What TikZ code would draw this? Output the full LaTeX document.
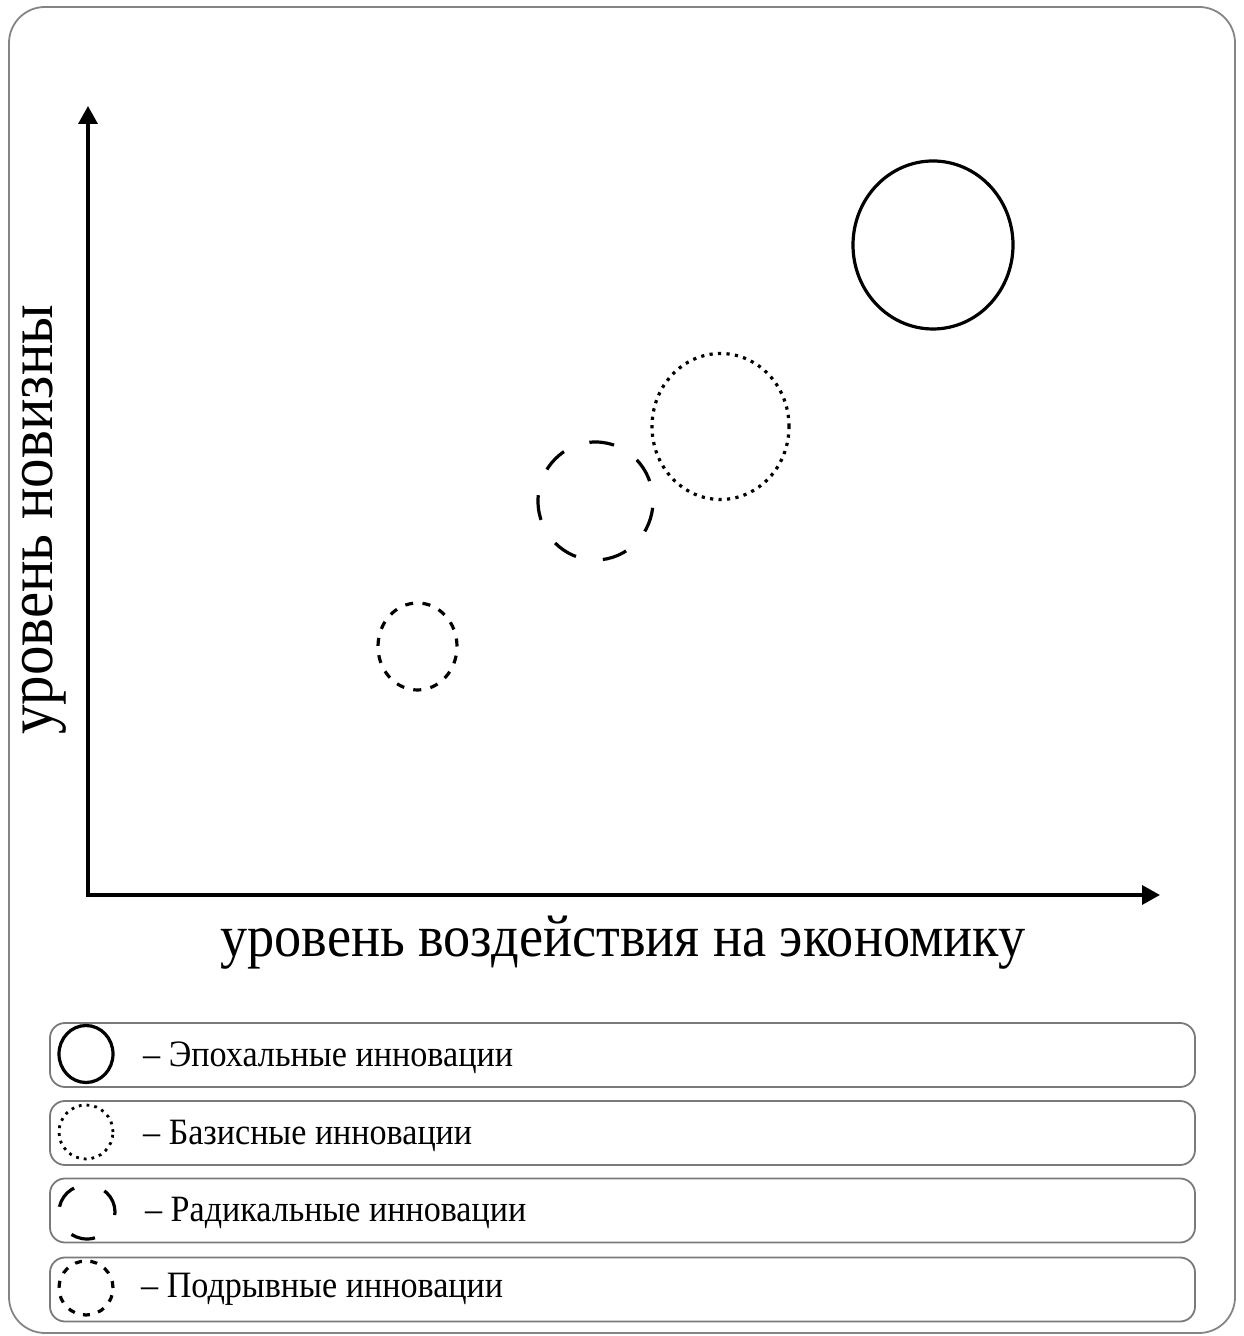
\documentclass[tikz,border=0pt]{standalone}
\usepackage{fontspec}
\setmainfont{Liberation Serif}
\usetikzlibrary{arrows.meta,shapes.geometric}
\definecolor{framegray}{HTML}{858585}
\definecolor{boxgray}{HTML}{7A7A7A}
% text set to a given width, slightly taller than the plain face
\newcommand{\fitto}[2]{\resizebox{#1}{!}{\scalebox{1}[1.09]{#2}}}
\tikzset{
  frame/.style={draw=framegray, line width=1.8pt, rounded corners=36pt},
  legbox/.style={draw=boxgray, line width=1.8pt, rounded corners=15pt,
    minimum width=1145pt, minimum height=64pt, inner sep=0pt},
  axis/.style={line width=3.5pt, line join=miter,
    {Triangle[length=18pt,width=19pt]}-{Triangle[length=18pt,width=19pt]}},
  bubble/.style={draw, ellipse, line width=3.2pt, inner sep=0pt, outer sep=0pt},
  epochal/.style={bubble},
  basic/.style={bubble, dash pattern=on 3.2pt off 5.3pt},
  radical/.style={bubble, dash pattern=on 25pt off 27.3pt, dash phase=32pt},
  disruptive/.style={bubble, dash pattern=on 8pt off 9.4pt},
  txt/.style={inner sep=0pt, anchor=base west},
}
\begin{document}
\begin{tikzpicture}[x=1pt, y=1pt]
  \useasboundingbox (0,0) rectangle (1244,1336);
  % outer frame
  \draw[frame] (9,3) rectangle (1235,1329);

  % axes
  \coordinate (origin) at (88,441);
  \coordinate (ytip) at (88,1230);
  \coordinate (xtip) at (1160,441);
  \draw[axis] (ytip) -- (origin) -- (xtip);

  \node[txt] (xlabel) at (220,379) {\fitto{805pt}{уровень воздействия на экономику}};
  \node[txt, rotate=90] (ylabel) at (52,601) {\fitto{430pt}{уровень новизны}};

  % innovation bubbles
  \node[epochal, minimum width=160pt, minimum height=168pt] (epo) at (933,1091) {};
  \node[basic, minimum width=137pt, minimum height=146pt] (bas) at (720.5,909.5) {};
  \node[radical, minimum width=115pt, minimum height=118pt] (rad) at (595.5,835) {};
  \node[disruptive, minimum width=79pt, minimum height=87pt] (dis) at (417.5,689.5) {};

  % legend
  \node[legbox] (box1) at (622.5,281) {};
  \node[legbox] (box2) at (622.5,203) {};
  \node[legbox] (box3) at (622.5,125.5) {};
  \node[legbox] (box4) at (622.5,46.5) {};

  \node[epochal, minimum width=54pt, minimum height=57pt] (ic1) at (86,282) {};
  \node[basic, line width=2.8pt, dash pattern=on 2.8pt off 5pt, minimum width=54pt, minimum height=54pt] (ic2) at (86,204) {};
  \node[bubble, dash pattern=on 24.5pt off 32pt, minimum width=56pt, minimum height=54pt] (ic3) at (87,124) {};
  \node[disruptive, dash pattern=on 7pt off 8.5pt, minimum width=54pt, minimum height=54pt] (ic4) at (86,48) {};

  \node[txt] (t1) at (143,269) {\fitto{370pt}{– Эпохальные инновации}};
  \node[txt] (t2) at (143,191) {\fitto{329pt}{– Базисные инновации}};
  \node[txt] (t3) at (145,114) {\fitto{381pt}{– Радикальные инновации}};
  \node[txt] (t4) at (141,38) {\fitto{362pt}{– Подрывные инновации}};
\end{tikzpicture}
\end{document}
